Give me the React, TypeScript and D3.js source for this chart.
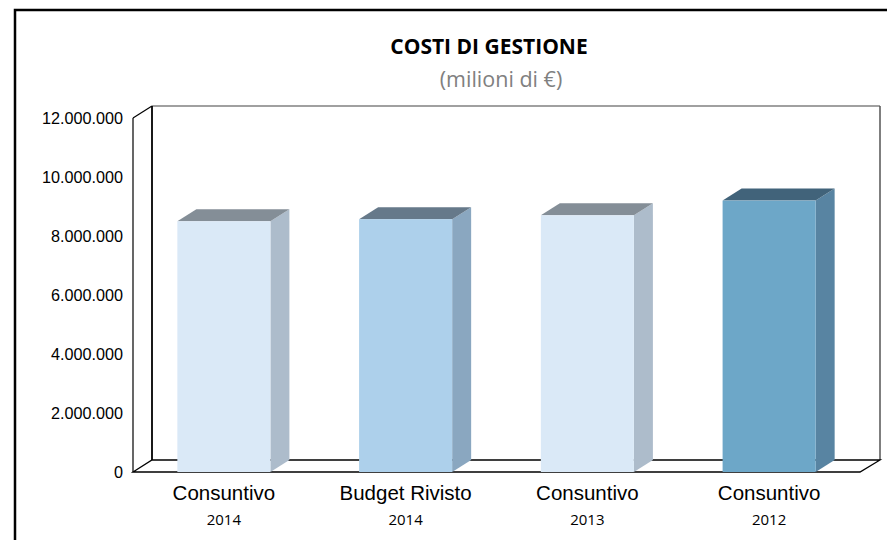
import React from "react";
import * as d3 from "d3";

const categories = ["Consuntivo", "Budget Rivisto", "Consuntivo", "Consuntivo"];
const years = ["2014", "2014", "2013", "2012"];
const values = [8500000, 8570000, 8700000, 9200000];
const yTicks = [0, 2000000, 4000000, 6000000, 8000000, 10000000, 12000000];

const frontColors = ["#DAE9F7", "#ADD0EB", "#DAE9F7", "#6DA7C8"];
const sideColors = ["#ADBCCB", "#8AA7C0", "#ADBCCB", "#5884A2"];
const topColors = ["#848E97", "#66798A", "#848E97", "#41637A"];

const W = 887;
const H = 540;
const left = 133;
const right = 860;
const top = 118;
const bottom = 472;
const DX = 19;
const DY = -12;

const fmt = (v: number) => d3.format(",")(v).replace(/,/g, ".");

export default function App() {
  const x = d3
    .scaleBand<number>()
    .domain(values.map((_, i) => i))
    .range([left, right])
    .paddingInner(0.488)
    .paddingOuter(0.244);
  const y = d3.scaleLinear().domain([0, 12000000]).range([bottom, top]);
  const bw = x.bandwidth();

  return (
    <svg
      width={W}
      height={H}
      style={{ position: "absolute", left: 0, top: 0, background: "#fff" }}
    >
      <rect x={0} y={0} width={W} height={H} fill="#fff" />
      {/* outer border */}
      <rect x={15} y={10} width={W} height={H} fill="none" stroke="#000" strokeWidth={2.5} />

      {/* title */}
      <text
        x={489}
        y={54}
        textAnchor="middle"
        fontFamily="'Open Sans', sans-serif"
        fontWeight="bold"
        fontSize={21}
        fill="#000"
      >
        COSTI DI GESTIONE
      </text>
      <text
        x={501}
        y={87}
        textAnchor="middle"
        fontFamily="'Open Sans', sans-serif"
        fontSize={21.5}
        fill="#808080"
      >
        (milioni di €)
      </text>

      {/* back wall */}
      <line x1={left + DX} y1={top + DY} x2={W - 7} y2={top + DY} stroke="#808080" strokeWidth={1.5} />
      <line x1={W - 7} y1={top + DY} x2={W - 7} y2={bottom + DY} stroke="#555" strokeWidth={1.5} />
      <line x1={left + DX} y1={top + DY} x2={left + DX} y2={bottom + DY} stroke="#000" strokeWidth={1.8} />
      {/* floor */}
      <polygon
        points={`${left},${bottom} ${left + DX},${bottom + DY} ${W - 7},${bottom + DY} ${right},${bottom}`}
        fill="#fff"
        stroke="#000"
        strokeWidth={1.3}
      />
      {/* side wall / value axis */}
      <line x1={left} y1={top} x2={left} y2={bottom} stroke="#000" strokeWidth={1.2} />
      <line x1={left} y1={top} x2={left + DX} y2={top + DY} stroke="#000" strokeWidth={1.2} />

      {/* y ticks */}
      {yTicks.map((t) => (
        <text
          key={t}
          x={123}
          y={y(t)}
          dy="0.36em"
          textAnchor="end"
          fontFamily="'Liberation Sans', Arial, sans-serif"
          fontSize={16.2}
          fill="#000"
        >
          {fmt(t)}
        </text>
      ))}

      {/* bars */}
      {values.map((v, i) => {
        const x0 = x(i)!;
        const x1 = x0 + bw;
        const yt = y(v);
        const yb = y(0);
        return (
          <g key={i}>
            <polygon
              points={`${x1},${yt} ${x1 + DX},${yt + DY} ${x1 + DX},${yb + DY} ${x1},${yb}`}
              fill={sideColors[i]}
            />
            <polygon
              points={`${x0},${yt} ${x0 + DX},${yt + DY} ${x1 + DX},${yt + DY} ${x1},${yt}`}
              fill={topColors[i]}
            />
            <rect x={x0} y={yt} width={bw} height={yb - yt} fill={frontColors[i]} />
          </g>
        );
      })}

      {/* category labels */}
      {categories.map((c, i) => (
        <g key={i}>
          <text
            x={x(i)! + bw / 2}
            y={500}
            textAnchor="middle"
            fontFamily="'Liberation Sans', Arial, sans-serif"
            fontSize={20.5}
            fill="#000"
          >
            {c}
          </text>
          <text
            x={x(i)! + bw / 2}
            y={525}
            textAnchor="middle"
            fontFamily="'Open Sans', sans-serif"
            fontSize={15}
            fill="#000"
          >
            {years[i]}
          </text>
        </g>
      ))}
    </svg>
  );
}
